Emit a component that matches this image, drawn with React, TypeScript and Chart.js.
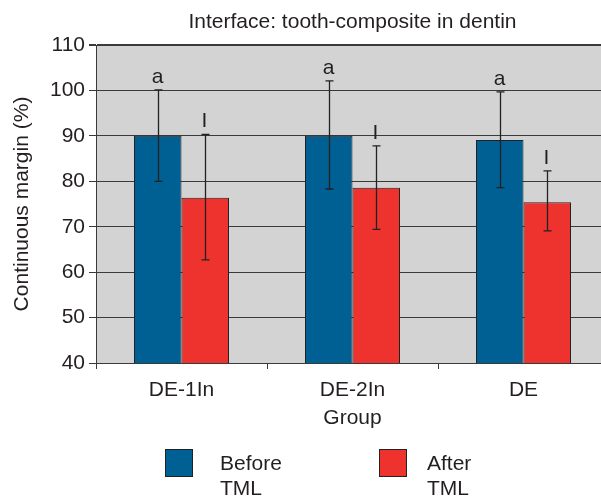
import { useEffect, useRef } from 'react';
import { Chart, registerables } from 'chart.js';

Chart.register(...registerables);

const chartTitle = 'Interface: tooth-composite in dentin';
const xTitle = 'Group';
const yTitle = 'Continuous margin (%)';
const categories = ['DE-1In', 'DE-2In', 'DE'];
const seriesLabels = [['Before', 'TML'], ['After', 'TML']];
const beforeValues = [90.0, 90.0, 89.1];
const afterValues = [76.4, 78.6, 75.4];
const beforeErrLow = [80.0, 78.3, 78.6];
const beforeErrHigh = [100.1, 102.1, 99.7];
const afterErrLow = [62.7, 69.4, 69.1];
const afterErrHigh = [90.3, 87.8, 82.3];
const beforeLetters = ['a', 'a', 'a'];
const afterLetters = ['I', 'I', 'I'];
const yMin = 40;
const yMax = 110;
const yStep = 10;

const BLUE = '#005f93';
const RED = '#ee322e';
const DARK = '#3a3a3a';
const TEXT = '#231f20';
const FONT = "'Liberation Sans', Arial, sans-serif";

const errLows = [beforeErrLow, afterErrLow];
const errHighs = [beforeErrHigh, afterErrHigh];
const letters = [beforeLetters, afterLetters];
const colors = [BLUE, RED];

const bgPlugin = {
  id: 'plotBg',
  beforeDraw(chart: any) {
    const { ctx, chartArea } = chart;
    ctx.save();
    ctx.fillStyle = '#d3d3d3';
    ctx.fillRect(chartArea.left, chartArea.top, chartArea.right - chartArea.left, chartArea.bottom - chartArea.top);
    ctx.restore();
  },
};

const errPlugin = {
  id: 'errBars',
  afterDatasetsDraw(chart: any) {
    const { ctx } = chart;
    const y = chart.scales.y;
    ctx.save();
    for (let d = 0; d < 2; d++) {
      const meta = chart.getDatasetMeta(d);
      meta.data.forEach((bar: any, j: number) => {
        const x = Math.round(bar.x) + 0.5;
        const yl = y.getPixelForValue(errLows[d][j]);
        const yh = y.getPixelForValue(errHighs[d][j]);
        ctx.strokeStyle = '#222';
        ctx.lineWidth = 1.3;
        ctx.beginPath();
        ctx.moveTo(x, yl);
        ctx.lineTo(x, yh);
        ctx.moveTo(x - 4, yl);
        ctx.lineTo(x + 4, yl);
        ctx.moveTo(x - 4, yh);
        ctx.lineTo(x + 4, yh);
        ctx.stroke();
        ctx.fillStyle = TEXT;
        ctx.font = `21px ${FONT}`;
        ctx.textAlign = 'center';
        ctx.textBaseline = 'alphabetic';
        ctx.fillText(letters[d][j], x - 1, yh - 7);
      });
    }
    ctx.restore();
  },
};

const decorPlugin = {
  id: 'decor',
  afterDraw(chart: any) {
    const { ctx, chartArea } = chart;
    ctx.save();
    ctx.fillStyle = TEXT;
    ctx.font = `21px ${FONT}`;
    ctx.textAlign = 'center';
    ctx.textBaseline = 'alphabetic';
    ctx.fillText(chartTitle, (chartArea.left + chartArea.right) / 2, 28);
    const items = [
      { sx: 165, tx: 220 },
      { sx: 379, tx: 427 },
    ];
    items.forEach((it, i) => {
      ctx.fillStyle = colors[i];
      ctx.fillRect(it.sx, 449, 28, 28);
      ctx.strokeStyle = '#222';
      ctx.lineWidth = 1;
      ctx.strokeRect(it.sx + 0.5, 449.5, 27, 27);
      ctx.fillStyle = TEXT;
      ctx.textAlign = 'left';
      seriesLabels[i].forEach((line, k) => {
        ctx.fillText(line, it.tx, 470 + k * 25);
      });
    });
    ctx.restore();
  },
};

export default function App() {
  const ref = useRef<HTMLCanvasElement | null>(null);
  useEffect(() => {
    if (!ref.current) return;
    const chart = new Chart(ref.current, {
      type: 'bar',
      data: {
        labels: categories,
        datasets: [
          {
            label: seriesLabels[0].join(' '),
            data: beforeValues,
            backgroundColor: BLUE,
            borderColor: '#222',
            borderWidth: 1,
            categoryPercentage: 0.5556,
            barPercentage: 1,
          },
          {
            label: seriesLabels[1].join(' '),
            data: afterValues,
            backgroundColor: RED,
            borderColor: '#222',
            borderWidth: 1,
            categoryPercentage: 0.5556,
            barPercentage: 1,
          },
        ],
      },
      options: {
        responsive: false,
        animation: false,
        layout: { padding: { left: 0, right: 6, top: 45, bottom: 0 } },
        plugins: {
          legend: { display: false },
          title: { display: false },
          tooltip: { enabled: false },
        },
        scales: {
          x: {
            afterFit: (s: any) => {
              s.height = 133;
            },
            grid: {
              drawOnChartArea: false,
              drawTicks: true,
              tickLength: 6,
              color: DARK,
              offset: true,
            },
            border: { display: true, color: DARK, width: 1 },
            ticks: {
              color: TEXT,
              font: { family: FONT, size: 21 },
              padding: 9,
            },
            title: {
              display: true,
              text: xTitle,
              color: TEXT,
              font: { family: FONT, size: 21 },
              padding: { top: 0, bottom: 65 },
            },
          },
          y: {
            min: yMin,
            max: yMax,
            afterFit: (s: any) => {
              s.width = 96;
            },
            grid: {
              color: DARK,
              lineWidth: (c: any) => (c.tick && c.tick.value === yMax ? 2 : 1),
              tickLength: 7,
            },
            border: { display: true, color: DARK, width: 1 },
            ticks: {
              stepSize: yStep,
              color: TEXT,
              font: { family: FONT, size: 21 },
              padding: 4,
            },
            title: {
              display: true,
              text: yTitle,
              color: TEXT,
              font: { family: FONT, size: 21 },
              padding: { top: 10, bottom: 0 },
            },
          },
        },
      },
      plugins: [bgPlugin, errPlugin, decorPlugin],
    });
    return () => chart.destroy();
  }, []);
  return (
    <div style={{ position: 'absolute', left: 0, top: 0, width: 601, height: 496, overflow: 'hidden', background: '#fff' }}>
      <canvas ref={ref} width={615} height={496} style={{ display: 'block' }} />
    </div>
  );
}
